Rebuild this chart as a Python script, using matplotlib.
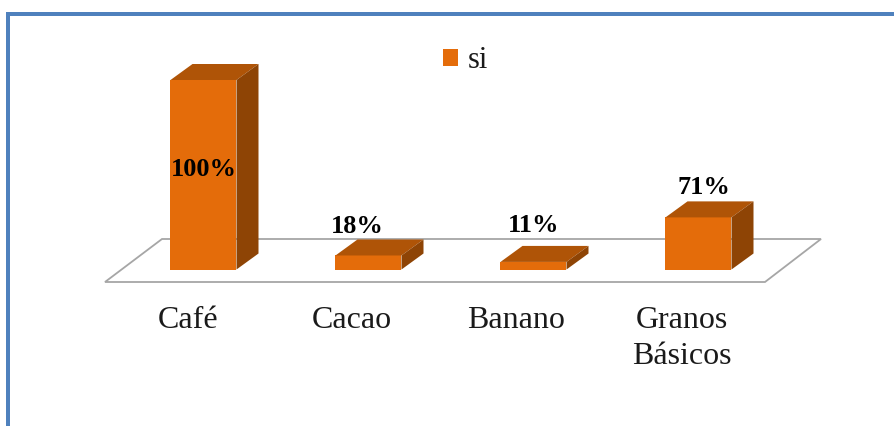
#!/usr/bin/env python3
"""Pseudo-3D bar chart: crops by percentage of 'si' answers."""
import matplotlib
matplotlib.use("Agg")
import matplotlib.pyplot as plt
from matplotlib.patches import Polygon, Rectangle, Patch

plt.rcParams["font.family"] = ["Liberation Serif", "DejaVu Serif"]

categories = ["Café", "Cacao", "Banano", "Granos\nBásicos"]
# drawn heights differ from the printed labels in the original
bar_heights = [100, 7.4, 4.0, 27.5]
bar_labels = ["100%", "18%", "11%", "71%"]
series_name = "si"

W, H = 895, 426
PX_X = 165.0   # pixels per category
PX_Y = 1.895   # pixels per value unit
X0, Y0 = 203.5, 269.5

ORANGE = "#E46C0A"
TOP = "#AF5407"
SIDE = "#8E4405"
FLOOR = "#A6A6A6"
BORDER = "#4F81BD"

# label nudges from the bar centre / bar top, in pixels
label_dx = [0, -11, 0, 5]
label_dy = [0, 13, 20, 14]
cat_dx = [-15, -17, -17, -17]

fig = plt.figure(figsize=(W / 100, H / 100), dpi=100, facecolor="white")
ax = fig.add_axes([0, 0, 1, 1])
ax.set_xlim(-X0 / PX_X, (W - X0) / PX_X)
ax.set_ylim(-(H - Y0) / PX_Y, Y0 / PX_Y)
ax.axis("off")

bar_w = 66 / PX_X
dx = 22 / PX_X
dy = 16 / PX_Y

# floor parallelogram
front_y = -12.5 / PX_Y
back_y = 30.5 / PX_Y
ax.add_patch(Polygon([(-98.5 / PX_X, front_y), (561.5 / PX_X, front_y),
                      (617.5 / PX_X, back_y), (-41.5 / PX_X, back_y)],
                     closed=True, fc="white", ec=FLOOR, lw=1.3, zorder=1))

for i, (h, lab) in enumerate(zip(bar_heights, bar_labels)):
    x0 = i - bar_w / 2
    x1 = i + bar_w / 2
    ax.add_patch(Rectangle((x0, 0), bar_w, h, fc=ORANGE, ec="none", zorder=3))
    ax.add_patch(Polygon([(x0, h), (x1, h), (x1 + dx, h + dy), (x0 + dx, h + dy)],
                         closed=True, fc=TOP, ec="none", zorder=3))
    ax.add_patch(Polygon([(x1, 0), (x1 + dx, dy), (x1 + dx, h + dy), (x1, h)],
                         closed=True, fc=SIDE, ec="none", zorder=3))
    # first label sits inside the bar, the others above it
    if h >= 100:
        ax.text(i, h / 2 + 3, lab, ha="center", va="center", fontsize=19,
                fontweight="bold", color="black", zorder=4)
    else:
        ax.text(i + label_dx[i] / PX_X, h + dy + label_dy[i] / PX_Y, lab, ha="center",
                va="center", fontsize=19, fontweight="bold", color="black", zorder=4)
    ax.text(i + cat_dx[i] / PX_X, -(306 - Y0) / PX_Y, categories[i], ha="center", va="top",
            fontsize=23, color="#1a1a1a", linespacing=1.3)

handle = Patch(fc=ORANGE, ec="none")
ax.legend([handle], [series_name], loc="center", bbox_to_anchor=(465.5 / W, 1 - 61 / H),
          frameon=False, fontsize=22, handlelength=0.5, handleheight=0.5,
          handletextpad=0.3, borderpad=0, labelcolor="#1a1a1a")

# blue frame, only left and top are visible
fig.add_artist(Rectangle((6 / W, 0), 4.5 / W, 1 - 12 / H, transform=fig.transFigure,
                         fc=BORDER, ec="none"))
fig.add_artist(Rectangle((6 / W, 1 - 16 / H), 1 - 6 / W, 4 / H, transform=fig.transFigure,
                         fc=BORDER, ec="none"))

fig.savefig("out.png", dpi=100, facecolor="white")
